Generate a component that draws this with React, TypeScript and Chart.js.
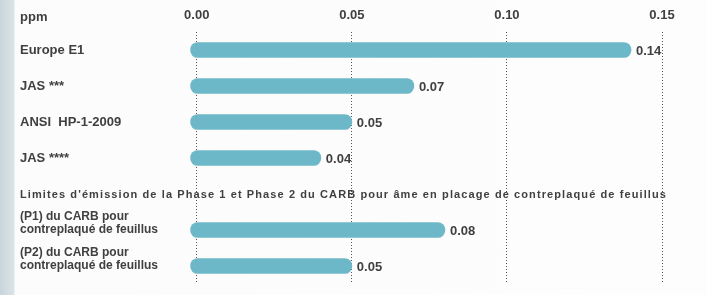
import React, { useEffect, useRef } from "react";
import { Chart, registerables } from "chart.js";

Chart.register(...registerables);

const unitLabel = "ppm";
const sectionTitle =
  "Limites d'émission de la Phase 1 et Phase 2 du CARB pour âme en placage de contreplaqué de feuillus";
const categories: (string | string[])[] = [
  "Europe E1",
  "JAS ***",
  "ANSI  HP-1-2009",
  "JAS ****",
  "",
  ["(P1) du CARB pour", "contreplaqué de feuillus", ""],
  ["(P2) du CARB pour", "contreplaqué de feuillus", ""],
];
const values: (number | null)[] = [0.14, 0.07, 0.05, 0.04, null, 0.08, 0.05];
const xTickValues = [0, 0.05, 0.1, 0.15];
const titleRowIndex = 4;

const TEXT = "#404040";
const FONT = "'Liberation Sans', Arial, sans-serif";

export default function App() {
  const ref = useRef<HTMLCanvasElement | null>(null);

  useEffect(() => {
    if (!ref.current) return;
    const labelsPlugin = {
      id: "extraLabels",
      afterDatasetsDraw(chart: any) {
        const ctx = chart.ctx;
        const ys = chart.scales.y;
        ctx.save();
        ctx.fillStyle = TEXT;
        ctx.textBaseline = "middle";
        ctx.textAlign = "left";
        // unit label
        ctx.font = `bold 13px ${FONT}`;
        ctx.fillText(unitLabel, 20, 17);
        // section title
        ctx.font = `bold 11px ${FONT}`;
        (ctx as any).letterSpacing = "1.1px";
        ctx.fillText(sectionTitle, 20, ys.getPixelForValue(titleRowIndex) + 1, 672);
        (ctx as any).letterSpacing = "0px";
        // value labels
        ctx.font = `bold 13px ${FONT}`;
        const meta = chart.getDatasetMeta(0);
        meta.data.forEach((bar: any, i: number) => {
          const v = values[i];
          if (v == null) return;
          ctx.fillText(v.toFixed(2), bar.x + 5, bar.y + 1);
        });
        ctx.restore();
      },
    };

    const chart = new Chart(ref.current, {
      type: "bar",
      data: {
        labels: categories as any,
        datasets: [
          {
            data: values as any,
            backgroundColor: "#6db8c8",
            borderWidth: 0,
            borderRadius: 8,
            borderSkipped: false,
            barThickness: 15,
            base: -0.002,
          } as any,
        ],
      },
      options: {
        animation: false,
        responsive: false,
        indexAxis: "y",
        layout: { padding: { left: 20, top: 0, right: 0, bottom: 11 } },
        plugins: {
          legend: { display: false },
          tooltip: { enabled: false },
        },
        scales: {
          x: {
            type: "linear",
            position: "top",
            min: -0.0025,
            max: 0.1645,
            afterBuildTicks: (s: any) => {
              s.ticks = xTickValues.map((v) => ({ value: v }));
            },
            afterFit: (s: any) => {
              s.height = 32;
            },
            ticks: {
              callback: (v: any) => Number(v).toFixed(2),
              font: { family: FONT, size: 13, weight: "bold" },
              color: TEXT,
              padding: 9,
              maxRotation: 0,
              autoSkip: false,
            },
            grid: { color: "#555", lineWidth: 1, drawTicks: false },
            border: { display: false, dash: [1, 2] },
          },
          y: {
            type: "category",
            offset: true,
            afterFit: (s: any) => {
              s.width = 169;
            },
            grid: { display: false },
            border: { display: false },
            ticks: {
              autoSkip: false,
              crossAlign: "far",
              padding: 0,
              color: TEXT,
              font: (c: any) =>
                c.index >= 5
                  ? { family: FONT, size: 12, weight: "bold", lineHeight: 1.15 }
                  : { family: FONT, size: 13, weight: "bold" },
            },
          },
        },
      } as any,
      plugins: [labelsPlugin],
    });
    return () => chart.destroy();
  }, []);

  return (
    <div
      style={{
        position: "absolute",
        left: 0,
        top: 0,
        width: 707,
        height: 295,
        background:
          "linear-gradient(to right, #c8d5da 0px, #dbe4e8 14px, #fcfcfc 15px, #fdfdfd 100%)",
      }}
    >
      <canvas ref={ref} width={707} height={295} style={{ display: "block" }} />
    </div>
  );
}
